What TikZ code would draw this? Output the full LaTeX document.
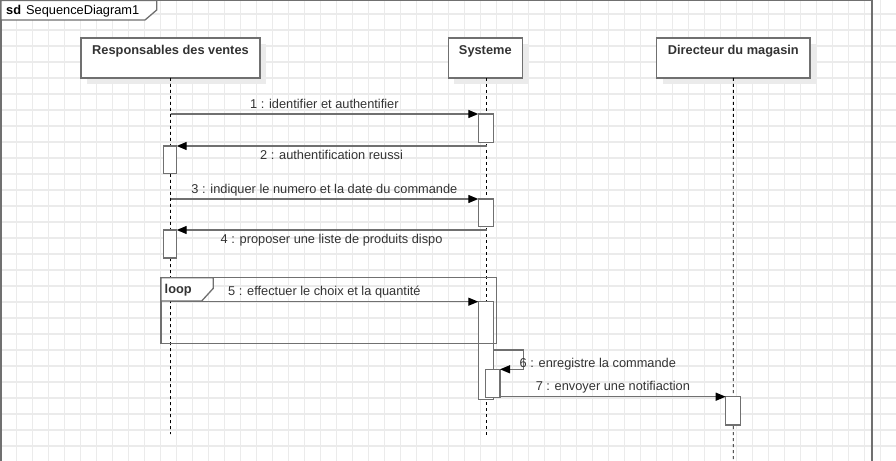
\documentclass[tikz,border=0pt]{standalone}
\usepackage{fontspec}
\setmainfont{Liberation Sans}
\usetikzlibrary{arrows.meta,shadows}
\definecolor{linegray}{HTML}{707070}
\definecolor{textdark}{HTML}{333333}
\definecolor{gridgray}{HTML}{EBEBEB}
\definecolor{shadowgray}{HTML}{EBEBEB}
\newcommand{\diagfont}{\fontsize{12.8bp}{15bp}\selectfont}
\tikzset{
  ln/.style={draw=linegray, line width=1.3bp},
  head/.style={ln, fill=white, rectangle, inner sep=0pt, outer sep=0pt, anchor=north west,
    drop shadow={shadow xshift=6bp, shadow yshift=-6bp, fill=shadowgray, opacity=1}},
  headtext/.style={font=\diagfont\bfseries, text=textdark, inner sep=0pt, anchor=north, yshift=-7bp},
  lifeline/.style={draw=black, line width=0.8bp, dash pattern=on 3bp off 3bp},
  act/.style={ln, fill=white, rectangle, inner sep=0pt, outer sep=0pt, minimum width=15bp, anchor=north west},
  msg/.style={ln, -{Triangle[length=10bp,width=8bp,color=black]}},
  lab/.style={text=textdark, inner sep=0pt, anchor=base, font=\diagfont},
}
\begin{document}
\begin{tikzpicture}[x=1bp, y=-1bp, font=\diagfont]
\useasboundingbox (0,0) rectangle (896,461);
\clip (0,0) rectangle (896,461);

% background grid
\fill[white] (0,0) rectangle (896,461);
\foreach \gx in {0.7,16.7,...,896} \draw[gridgray, line width=1.2bp] (\gx,0) -- (\gx,461);
\foreach \gy in {14,30,...,461} \draw[gridgray, line width=1.2bp] (0,\gy) -- (896,\gy);

% sequence diagram frame and its name tag
\node[ln, rectangle, inner sep=0pt, outer sep=0pt, anchor=north west,
      minimum width=871bp, minimum height=480bp] (frame) at (1,0.5) {};
\draw[ln, fill=white] (frame.north west) -- ++(155.7,0) -- ++(0,9.5) -- ++(-11.7,10) -- (frame.west |- 0,20) -- cycle;
\node[lab, anchor=base west, text=black] (sdname) at (6,14.5) {\textbf{sd}\hspace{5bp}SequenceDiagram1};

% lifeline heads
\node[head, minimum width=179bp, minimum height=40bp,
      label={[headtext]north:Responsables des ventes}] (resp) at (81,38) {};
\node[head, minimum width=74bp, minimum height=40bp,
      label={[headtext]north:Systeme}] (sys) at (448.3,38) {};
\node[head, minimum width=153.3bp, minimum height=40bp,
      label={[headtext]north:Directeur du magasin}] (dir) at (656.7,38) {};

% lifelines
\coordinate (respEnd) at (170.5,434);
\coordinate (sysEnd) at (486.5,436);
\coordinate (dirEnd) at (733.3,470);
\draw[lifeline] (resp.south) -- (respEnd);
\draw[lifeline] (sys.south -| sysEnd) -- (sysEnd);
\draw[lifeline] (dir.south) -- (dirEnd);

% activation bars
\node[act, minimum height=28.3bp] (a1) at (478.3,114) {};
\node[act, minimum width=13.4bp, minimum height=27.3bp] (r2) at (163.3,146) {};
\node[act, minimum height=27.7bp] (a3) at (478.3,199) {};
\node[act, minimum width=13.4bp, minimum height=28bp] (r4) at (163.3,230) {};
\node[act, minimum height=97.6bp] (a5) at (478.3,301.7) {};
\node[act, minimum width=14.3bp, minimum height=28.4bp] (a6) at (485.7,369.3) {};
\node[act, minimum height=28.3bp] (d7) at (725.7,396.7) {};

% loop fragment
\node[ln, rectangle, inner sep=0pt, outer sep=0pt, anchor=north west,
      minimum width=335.5bp, minimum height=65.6bp] (loop) at (161,277.7) {};
\draw[ln, fill=white] (loop.north west) -- ++(52.3,0) -- ++(0,10.6) -- ++(-11.6,12.7) -- (loop.west |- 0,301) -- cycle;
\node[lab, anchor=base west, font=\diagfont\bfseries] (looptag) at (164.5,293.5) {loop};

% messages
\draw[msg] (resp.south |- a1.north) -- node[lab, yshift=5.7bp] {1 : identifier et authentifier} (a1.north west);
\draw[msg] (sysEnd |- r2.north) -- node[lab, yshift=-13.3bp] {2 : authentification reussi} (r2.north east);
\draw[msg] (resp.south |- a3.north) -- node[lab, yshift=5.7bp] {3 : indiquer le numero et la date du commande} (a3.north west);
\draw[msg] (sysEnd |- r4.north) -- node[lab, yshift=-13.3bp] {4 : proposer une liste de produits dispo} (r4.north east);
\draw[msg] (resp.south |- a5.north) -- node[lab, yshift=5.7bp] {5 : effectuer le choix et la quantité} (a5.north west);
\coordinate (s6) at (523.3,350);
\draw[msg] (a5.east |- s6) -- (s6) |- (a6.north east);
\node[lab, anchor=base west] (l6) at (519.5,367.3) {6 : enregistre la commande};
\draw[msg] (a6.east |- d7.north) -- node[lab, yshift=5.7bp] {7 : envoyer une notifiaction} (d7.north west);
\end{tikzpicture}
\end{document}
